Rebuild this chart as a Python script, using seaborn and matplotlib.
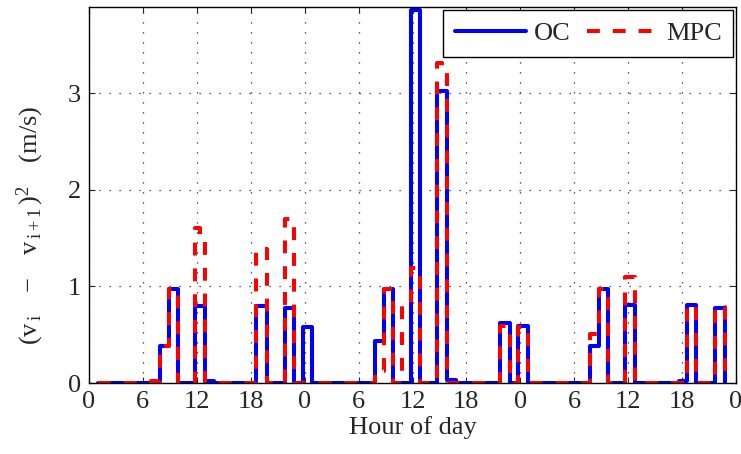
import matplotlib
matplotlib.use("Agg")
import matplotlib.pyplot as plt
import seaborn as sns
import numpy as np

# Step breakpoints (hours) and values for each series
oc_t = [1, 7.9, 8.9, 9.9, 11.8, 12.9, 13.9, 18.6, 19.85, 21.8, 22.8, 23.8, 24.85,
        31.8, 32.8, 33.8, 35.8, 36.8, 38.7, 39.8, 40.8, 45.7, 46.8, 47.7, 48.8,
        55.7, 56.8, 57.8, 59.6, 60.75, 65.7, 66.6, 67.6, 69.7, 70.75]
oc_v = [0, 0.38, 0.97, 0, 0.80, 0.02, 0, 0.80, 0, 0.78, 0, 0.58, 0,
        0.43, 0.97, 0, 3.86, 0, 3.02, 0.03, 0, 0.62, 0, 0.59, 0,
        0.38, 0.97, 0, 0.81, 0, 0.02, 0.81, 0, 0.78, 0]

mpc_t = [1, 6.9, 7.9, 8.9, 9.9, 11.8, 12.35, 12.9, 18.6, 19.85, 21.8, 22.8,
         31.8, 32.8, 33.8, 34.8, 35.8, 36.8, 38.7, 39.25, 39.8, 45.7, 46.8, 47.7, 48.8,
         55.7, 56.8, 57.8, 59.6, 60.75, 61.7, 66.6, 67.6, 69.7, 70.75]
mpc_v = [0, 0.02, 0.38, 0.97, 0, 1.60, 1.49, 0, 1.39, 0, 1.70, 0,
         0.12, 0.97, 0, 0.82, 1.19, 0, 3.31, 3.23, 0, 0.59, 0, 0.58, 0,
         0.51, 0.97, 0, 1.10, 0.02, 0, 0.80, 0, 0.79, 0]

xticks = list(range(0, 73, 6))
xticklabels = ["0", "6", "12", "18", "0", "6", "12", "18", "0", "6", "12", "18", "0"]
yticks = [0, 1, 2, 3]

sns.set_style("white")
plt.rcParams["font.family"] = ["Liberation Serif", "DejaVu Serif"]
plt.rcParams["mathtext.fontset"] = "custom"
plt.rcParams["mathtext.rm"] = "Liberation Serif"
plt.rcParams["mathtext.it"] = "Liberation Serif:italic"

fig = plt.figure(figsize=(7.41, 4.54), dpi=100)
ax = fig.add_axes([89 / 741, 1 - 383 / 454, (736 - 89) / 741, (383 - 7) / 454])

sns.lineplot(x=oc_t, y=oc_v, ax=ax, drawstyle="steps-post", color="#0000ff",
             lw=2.9, label="OC", errorbar=None, sort=False)
sns.lineplot(x=mpc_t, y=mpc_v, ax=ax, drawstyle="steps-post", color="#ff0000",
             lw=2.9, linestyle=(0, (3.2, 3.2)), label="MPC", errorbar=None, sort=False)

ax.set_xlim(0, 72)
ax.set_ylim(0, 3.89)
ax.set_xticks(xticks)
ax.set_xticklabels(xticklabels)
ax.set_yticks(yticks)
ax.tick_params(direction="in", length=4, width=0.8, labelsize=19,
               top=True, right=True, bottom=True, left=True, pad=6)
ax.grid(True, linestyle=(0, (1, 7)), color="0.15", linewidth=0.9)
for s in ax.spines.values():
    s.set_color("black")
    s.set_linewidth(1.0)

ax.set_xlabel("Hour of day", fontsize=19, labelpad=2)
ax.set_ylabel(r"$\mathregular{(v_{\,i}\quad-\quad v_{\,i+1}\,)^{2}}\;\;$  (m/s)", fontsize=19)
ax.yaxis.set_label_coords(-0.066, 0.42)

leg = ax.legend(loc="upper right", ncol=2, fontsize=19, frameon=True, fancybox=False,
                edgecolor="black", framealpha=1, handlelength=2.7, handletextpad=0.3,
                columnspacing=0.6, borderaxespad=0.1, borderpad=0.45)
leg.get_frame().set_linewidth(1.0)

fig.savefig("out.png", dpi=100)
